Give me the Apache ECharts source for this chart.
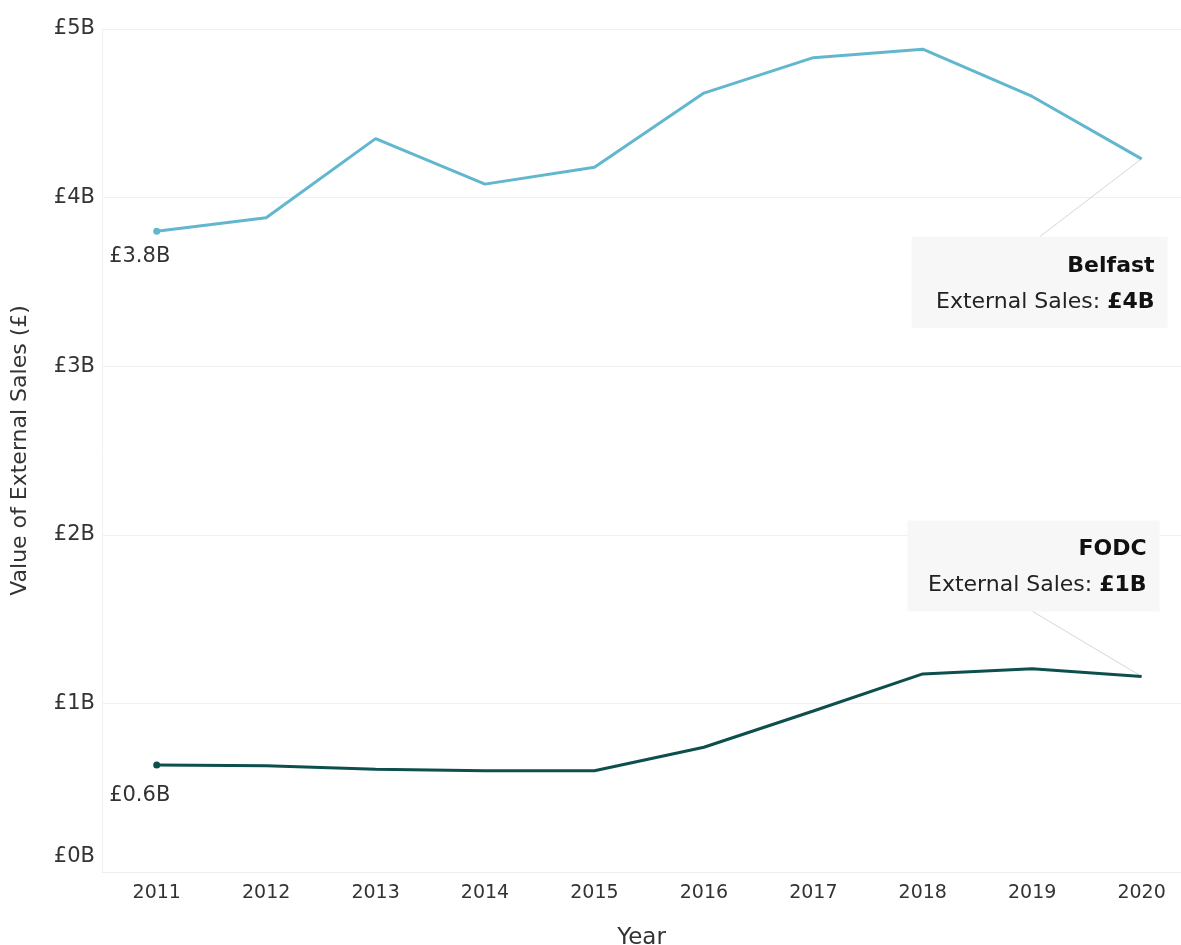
<!DOCTYPE html>
<html><head><meta charset="utf-8">
<script src="https://cdn.jsdelivr.net/npm/echarts@6/dist/echarts.min.js"></script>
<style>html,body{margin:0;padding:0;background:#fff}#c{width:1181px;height:945px}</style>
</head><body><div id="c"></div>
<script>
const years = [2011,2012,2013,2014,2015,2016,2017,2018,2019,2020];
const belfast = [3.80,3.88,4.35,4.08,4.18,4.62,4.83,4.88,4.60,4.23];
const fodc = [0.635,0.63,0.61,0.60,0.60,0.74,0.955,1.175,1.205,1.16];
const yTicks = [0,1,2,3,4,5];
const FONT = '"DejaVu Sans"';
const TXT = '#333';

function mkData(vals){
  return years.map((y,i)=>{
    const d = {value:[y, vals[i]]};
    if(i===0){ d.label = {show:true}; }
    return d;
  });
}
function mkSeries(name, vals, color, offY){
  return {
    name, type:'line', data: mkData(vals),
    lineStyle:{color, width:3}, itemStyle:{color},
    symbol:'circle', showSymbol:true,
    symbolSize:(v,p)=> p.dataIndex===0 ? 7 : 0,
    label:{show:false, position:'bottom', offset:[-17,offY], fontFamily:FONT, fontSize:21, color:TXT,
      formatter:p=>'£'+p.value[1].toFixed(1)+'B'},
    emphasis:{disabled:true}, z:3
  };
}
const chart = echarts.init(document.getElementById('c'));
chart.setOption({
  animation:false,
  grid:{left:102,right:0,top:29,bottom:73,outerBoundsMode:'none',containLabel:false},
  xAxis:{type:'value', min:2010.5, max:2020.36, interval:0.5,
    axisLine:{show:true,lineStyle:{color:'#eeeeee'}}, axisTick:{show:false}, splitLine:{show:false},
    axisLabel:{fontFamily:FONT,fontSize:19,color:TXT,margin:12,
      formatter:v=> Math.abs(v-Math.round(v))<1e-6 ? String(Math.round(v)) : ''},
    name:'Year', nameLocation:'middle', nameGap:55, nameTextStyle:{fontFamily:FONT,fontSize:23,color:TXT}},
  yAxis:{type:'value', min:yTicks[0], max:yTicks[yTicks.length-1], interval:1,
    axisLine:{show:true,lineStyle:{color:'#f0f0f0'}}, axisTick:{show:false},
    splitLine:{show:true,lineStyle:{color:'#f0f0f0',width:1}},
    axisLabel:{fontFamily:FONT,fontSize:21,color:TXT,margin:7,
      formatter:v=> v===0 ? '{z|£0B}' : '£'+v+'B',
      rich:{z:{fontFamily:FONT,fontSize:21,color:TXT,padding:[0,0,30,0]}}},
    name:'Value of External Sales (£)', nameLocation:'middle', nameRotate:90, nameGap:71,
    nameTextStyle:{fontFamily:FONT,fontSize:22,color:TXT}},
  series:[mkSeries('Belfast', belfast, '#62b7cf', 6), mkSeries('FODC', fodc, '#0d4f4c', 12)]
});

function annot(name, vals, dx, dy, w, h, anchorDx){
  const p = chart.convertToPixel({xAxisIndex:0,yAxisIndex:0},[years[years.length-1], vals[vals.length-1]]);
  const last = vals[vals.length-1];
  const bx = p[0]+dx, by = p[1]+dy;
  const lineY = dy>0 ? by : by+h;
  return [
    {type:'line', shape:{x1:bx+anchorDx, y1:lineY, x2:p[0], y2:p[1]}, style:{stroke:'#d6d6d6', lineWidth:1}, z:1},
    {type:'rect', shape:{x:bx,y:by,width:w,height:h}, style:{fill:'#f7f7f7'}, z:2},
    {type:'text', x:bx+w-13, y:by+29, style:{text:name, align:'right', verticalAlign:'middle',
      font:'bold 22px '+FONT, fill:'#111'}, z:3},
    {type:'text', x:bx+w-13, y:by+65, style:{text:'External Sales: {b|£'+Math.round(last)+'B}', align:'right', verticalAlign:'middle',
      font:'22px '+FONT, fill:'#222', rich:{b:{fontFamily:FONT,fontSize:22,fontWeight:'bold',fill:'#111'}}}, z:3}
  ];
}
chart.setOption({graphic:[
  ...annot('Belfast', belfast, -230, 78, 256, 91, 128),
  ...annot('FODC', fodc, -234, -156, 252, 91, 125)
]});
</script></body></html>
